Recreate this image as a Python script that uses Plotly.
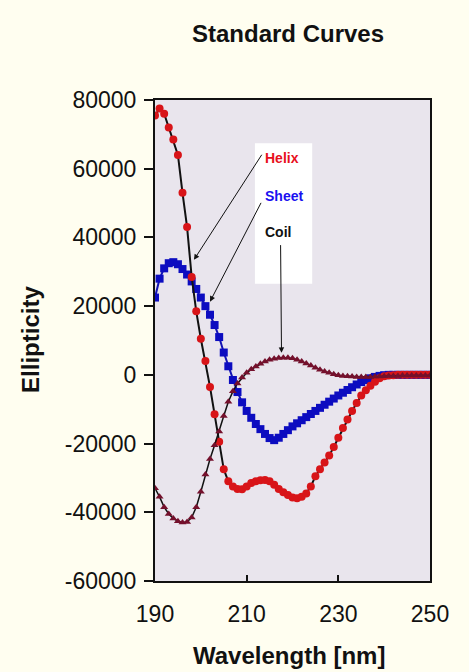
import plotly.graph_objects as go

# ---- data ----
wavelength = list(range(190, 251))

helix = [75500, 77500, 76000, 72000, 68500, 64000, 53000, 43000, 28500, 18500,
         10500, 4000, -3500, -11500, -19500, -27500, -31000, -32500, -33200, -33300,
         -32500, -31500, -31000, -30700, -30600, -31000, -32000, -33200, -34200, -35000,
         -35700, -35900, -35500, -34500, -32500, -29500, -27500, -25500, -23500, -21000,
         -18300, -15500, -13000, -10500, -8200, -6000, -4500, -3200, -2000, -1000,
         -400, -200, -100, 0, 0, 0, 0, 0, 0, 0, 0]

sheet = [22500, 28000, 31000, 32500, 32800, 32200, 30800, 29200, 27200, 25000,
         22500, 20000, 17500, 14500, 11000, 6500, 2500, -1500, -5000, -8000,
         -10500, -12500, -14300, -15800, -17200, -18400, -19000, -18300, -17200, -16100,
         -15000, -14100, -13200, -12300, -11400, -10500, -9600, -8700, -7800, -6900,
         -6000, -5200, -4400, -3600, -2800, -2100, -1500, -1000, -600, -300,
         -100, 0, 0, 0, 0, 0, 0, 0, 0, 0, 0]

coil = [-33000, -35500, -38500, -40500, -41800, -42600, -43000, -42800, -41500, -38500,
        -34000, -29000, -24500, -20500, -16500, -12000, -7800, -4800, -2500, -800,
        600, 1600, 2400, 3200, 3900, 4400, 4700, 4900, 5000, 5000,
        4800, 4400, 3900, 3300, 2700, 2100, 1500, 1000, 600, 200,
        -100, -300, -400, -500, -600, -600, -600, -600, -500, -500,
        -400, -300, -300, -300, -200, -200, -200, -200, -200, -200, -200]

x_ticks = [190, 210, 230, 250]
y_tick_vals = [80000, 60000, 40000, 20000, 0, -20000, -40000, -60000]
y_tick_text = ["80000", "60000", "40000", "20000", "0", "-20000", "-40000", "-60000"]

FONT = "Liberation Sans, Arial, sans-serif"

fig = go.Figure()

fig.add_trace(go.Scatter(
    x=wavelength, y=sheet, mode="lines+markers", name="Sheet",
    line=dict(color="#1414B4", width=2),
    marker=dict(symbol="square", size=8, color="#0C0CC0"),
))
fig.add_trace(go.Scatter(
    x=wavelength, y=helix, mode="lines+markers", name="Helix",
    line=dict(color="#111111", width=2),
    marker=dict(symbol="circle", size=8, color="#D81418"),
))
fig.add_trace(go.Scatter(
    x=wavelength, y=coil, mode="lines+markers", name="Coil",
    line=dict(color="#111111", width=1.5),
    marker=dict(symbol="triangle-up", size=7, color="#74102C"),
))

# white label box
fig.add_shape(type="rect", xref="x", yref="y", x0=211.8, x1=224.3, y0=26500, y1=67400,
              fillcolor="white", line=dict(width=0), layer="below")

annotations = [
    dict(x=213.6, y=63000, text="<b>Helix</b>", font=dict(color="#E8101C", size=14, family=FONT)),
    dict(x=213.6, y=52200, text="<b>Sheet</b>", font=dict(color="#1A10F0", size=14, family=FONT)),
    dict(x=213.6, y=41700, text="<b>Coil</b>", font=dict(color="#111111", size=14, family=FONT)),
]
for a in annotations:
    a.update(xref="x", yref="y", xanchor="left", yanchor="middle", showarrow=False)
    fig.add_annotation(**a)

arrows = [
    (198.5, 33500, 213.5, 64500),
    (202.0, 21300, 213.3, 50500),
    (217.6, 6400, 217.4, 38200),
]
for tx, ty, sx, sy in arrows:
    fig.add_annotation(x=tx, y=ty, ax=sx, ay=sy, xref="x", yref="y", axref="x", ayref="y",
                       text="", showarrow=True, arrowhead=2, arrowsize=1.1, arrowwidth=1,
                       arrowcolor="#111111")

# titles
fig.add_annotation(x=0.484, y=1.139, xref="paper", yref="paper", text="<b>Standard Curves</b>",
                   showarrow=False, font=dict(size=24, color="#111111", family=FONT),
                   xanchor="center", yanchor="middle")
fig.add_annotation(x=0.487, y=-0.154, xref="paper", yref="paper", text="<b>Wavelength [nm]</b>",
                   showarrow=False, font=dict(size=24, color="#111111", family=FONT),
                   xanchor="center", yanchor="middle")
fig.add_annotation(x=-0.455, y=0.503, xref="paper", yref="paper", text="<b>Ellipticity</b>",
                   showarrow=False, font=dict(size=24, color="#111111", family=FONT),
                   textangle=-90, xanchor="center", yanchor="middle")

fig.update_layout(
    width=469, height=672,
    margin=dict(l=155, r=39, t=100, b=91),
    paper_bgcolor="#FFFEF0",
    plot_bgcolor="#E9E5ED",
    showlegend=False,
    font=dict(family=FONT, size=23, color="#111111"),
)
fig.update_xaxes(
    range=[190, 250], tickvals=x_ticks, ticks="inside", ticklen=6, tickwidth=1.5,
    tickcolor="#111111", showgrid=False, zeroline=False,
    showline=True, linecolor="#111111", linewidth=2, mirror=True,
    ticklabelstandoff=11, tickfont=dict(size=23),
)
fig.update_yaxes(
    range=[-60000, 80000], tickvals=y_tick_vals, ticktext=y_tick_text, ticks="outside",
    ticklen=9, tickwidth=2, tickcolor="#111111", showgrid=False, zeroline=False,
    showline=True, linecolor="#111111", linewidth=2, mirror=True,
    ticklabelstandoff=3, tickfont=dict(size=23),
)

fig.write_html("out.html", config={"displayModeBar": False},
               post_script="document.body.style.margin='0';document.body.style.overflow='hidden';")
